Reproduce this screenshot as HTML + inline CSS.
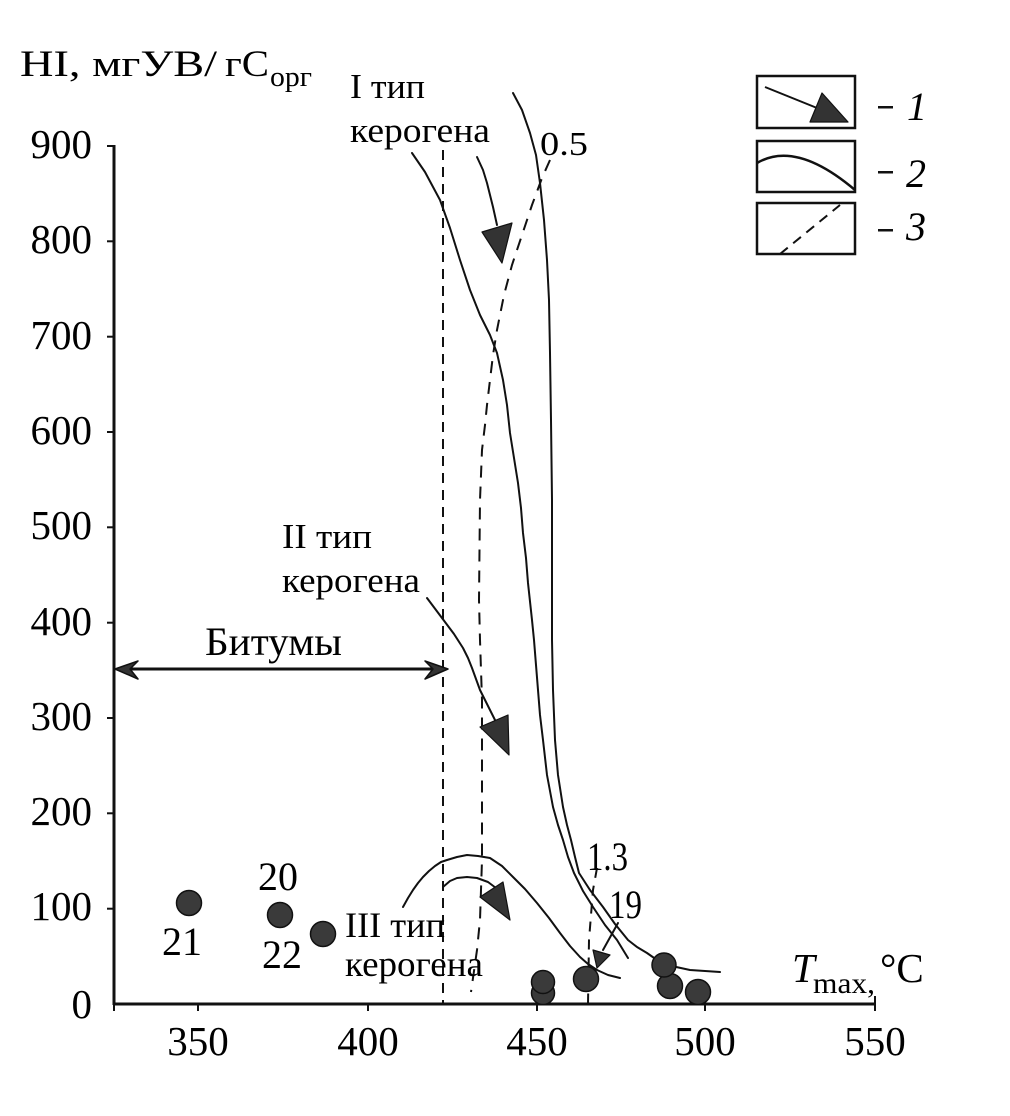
<!DOCTYPE html>
<html><head><meta charset="utf-8"><style>
html,body{margin:0;padding:0;background:#fff;}
svg{display:block;}
text{font-family:"Liberation Serif","Noto Serif CJK SC",serif;fill:#000;}
</style></head><body>
<svg width="1010" height="1116" viewBox="0 0 1010 1116" xmlns="http://www.w3.org/2000/svg">
<rect width="1010" height="1116" fill="#fff"/>

<!-- Title -->
<text x="20" y="76" font-size="37" textLength="197" lengthAdjust="spacingAndGlyphs">HI, мгУВ/</text>
<text x="225" y="76" font-size="37" textLength="44" lengthAdjust="spacingAndGlyphs">гС</text>
<text x="270" y="86" font-size="28" textLength="42" lengthAdjust="spacingAndGlyphs">орг</text>

<!-- Axes -->
<g stroke="#111" stroke-width="3" fill="none">
<line x1="114" y1="145" x2="114" y2="1005"/>
<line x1="113" y1="1004" x2="876" y2="1004"/>
</g>
<g stroke="#111" stroke-width="2">
<line x1="107" y1="146" x2="114" y2="146"/>
<line x1="107" y1="241.3" x2="114" y2="241.3"/>
<line x1="107" y1="336.7" x2="114" y2="336.7"/>
<line x1="107" y1="432" x2="114" y2="432"/>
<line x1="107" y1="527.3" x2="114" y2="527.3"/>
<line x1="107" y1="622.7" x2="114" y2="622.7"/>
<line x1="107" y1="718" x2="114" y2="718"/>
<line x1="107" y1="813.3" x2="114" y2="813.3"/>
<line x1="107" y1="908.7" x2="114" y2="908.7"/>
<line x1="114" y1="1004" x2="114" y2="1011"/>
<line x1="198" y1="1004" x2="198" y2="1011"/>
<line x1="368" y1="1004" x2="368" y2="1011"/>
<line x1="537" y1="995" x2="537" y2="1011"/>
<line x1="705" y1="998" x2="705" y2="1011"/>
<line x1="875" y1="996" x2="875" y2="1011"/>
</g>

<!-- Y tick labels -->
<g font-size="41" text-anchor="end">
<text x="92" y="158">900</text>
<text x="92" y="253">800</text>
<text x="92" y="349">700</text>
<text x="92" y="444">600</text>
<text x="92" y="539">500</text>
<text x="92" y="635">400</text>
<text x="92" y="730">300</text>
<text x="92" y="825">200</text>
<text x="92" y="920">100</text>
<text x="92" y="1018">0</text>
</g>
<!-- X tick labels -->
<g font-size="41" text-anchor="middle">
<text x="198" y="1055">350</text>
<text x="368" y="1055">400</text>
<text x="537" y="1055">450</text>
<text x="705" y="1055">500</text>
<text x="875" y="1055">550</text>
</g>

<!-- Tmax label -->
<text x="792" y="982" font-size="41" font-style="italic">T</text>
<text x="813" y="993" font-size="30" textLength="62" lengthAdjust="spacingAndGlyphs">max,</text>
<text x="880" y="982" font-size="41">°C</text>

<!-- Dashed lines -->
<g stroke="#111" stroke-width="2" fill="none">
<line x1="443" y1="150" x2="443" y2="1004" stroke-dasharray="10 7"/>
<polyline stroke-dasharray="12 9" points="550,160 542,178 532,205 522,235 512,265 504,295 497,330 493,355 490,380 487,405 485,425 482,450 480,500 479,600 480,640 482,700 482,860 480,920 477,950 471,992"/>
<polyline stroke-dasharray="10 8" points="597,868 593,890 589,940 588,1004"/>
</g>

<!-- Solid curves -->
<g stroke="#111" stroke-width="2" fill="none" stroke-linejoin="round" stroke-linecap="round">
<!-- curve A -->
<polyline points="412,153 425,172 440,200 450,228 460,260 470,290 480,315 490,335 497,353 503,380 507,405 510,433 514,458 518,483 521,508 523,533 526,558 528,583 532,620 534,640 536,665 538,690 540,715 543,740 547,775 553,807 558,825 563,840 568,857 574,873 583,891 593,907 605,925 617,940 628,958"/>
<!-- curve B -->
<polyline points="513,93 522,110 530,133 536,155 540,183 544,220 547,260 549,300 550,353 551,420 552,500 552,580 552,640 553,690 555,740 558,775 563,807 567,825 571,840 575,857 579,873 590,890 603,907 615,924 628,940 637,947 647,953 657,960 667,965 690,970 720,972"/>
<!-- III outer arc -->
<polyline points="403,907 408,898 413,890 418,883 423,877 429,871 435,866 441,862 447,860 457,857 467,855 478,856 490,858 502,866 513,877 525,889 537,903 549,918 560,933 570,946 580,957 588,964 597,970 608,975 620,978"/>
<!-- III inner arc -->
<polyline points="443,887 450,881 457,878 467,877 477,878 488,882 496,888"/>
<!-- I arrow line -->
<polyline points="477,157 483,170 487,183 490,195 493,207 497,225"/>
<!-- II arrow line -->
<polyline points="427,598 436,610 445,622 454,634 463,648 468,658 472,668 476,679 480,690 485,700 490,710 496,722"/>
<!-- 19 arrow line -->
<line x1="618" y1="923" x2="603" y2="950"/>
</g>

<!-- Arrowheads -->
<g fill="#333" stroke="#111" stroke-width="1.2" stroke-linejoin="round">
<polygon points="482,232 512,223 502,263"/>
<polygon points="480,727 508,715 509,755"/>
<polygon points="480,897 503,882 510,920"/>
<polygon points="593,950 610,955 597,968"/>
</g>

<!-- Bitumen double arrow -->
<line x1="118" y1="669" x2="444" y2="669" stroke="#111" stroke-width="3"/>
<polygon points="115,669 138,661 130,669 138,679" fill="#333" stroke="#111" stroke-width="1.5" stroke-linejoin="round"/>
<polygon points="448,669 425,661 433,669 425,679" fill="#333" stroke="#111" stroke-width="1.5" stroke-linejoin="round"/>
<text x="205" y="655" font-size="40" textLength="137" lengthAdjust="spacingAndGlyphs">Битумы</text>

<!-- Labels -->
<text x="350" y="98" font-size="35" textLength="75" lengthAdjust="spacingAndGlyphs">I тип</text>
<text x="350" y="142" font-size="35" textLength="140" lengthAdjust="spacingAndGlyphs">керогена</text>
<text x="540" y="155" font-size="34" textLength="48" lengthAdjust="spacingAndGlyphs">0.5</text>
<text x="282" y="548" font-size="35" textLength="90" lengthAdjust="spacingAndGlyphs">II тип</text>
<text x="282" y="592" font-size="35" textLength="138" lengthAdjust="spacingAndGlyphs">керогена</text>
<text x="345" y="937" font-size="36" textLength="100" lengthAdjust="spacingAndGlyphs">III тип</text>
<text x="345" y="976" font-size="36" textLength="138" lengthAdjust="spacingAndGlyphs">керогена</text>
<text x="587" y="870" font-size="40" textLength="41" lengthAdjust="spacingAndGlyphs">1.3</text>
<text x="609" y="918" font-size="40" textLength="33" lengthAdjust="spacingAndGlyphs">19</text>
<g font-size="40" text-anchor="middle">
<text x="182" y="955">21</text>
<text x="278" y="890">20</text>
<text x="282" y="968">22</text>
</g>

<!-- Data points -->
<g fill="#3a3a3a" stroke="#111" stroke-width="1.5">
<circle cx="189" cy="903" r="12.5"/>
<circle cx="280" cy="915" r="12.5"/>
<circle cx="323" cy="934" r="12.5"/>
<circle cx="543" cy="993" r="11.5"/>
<circle cx="543" cy="982" r="11.5"/>
<circle cx="586" cy="979" r="12.5"/>
<circle cx="670" cy="986" r="12.5"/>
<circle cx="664" cy="965" r="12"/>
<circle cx="698" cy="992" r="12.5"/>
</g>

<!-- Legend -->
<g stroke="#111" stroke-width="2.5" fill="#fff">
<rect x="757" y="76" width="98" height="52"/>
<rect x="757" y="141" width="98" height="51"/>
<rect x="757" y="203" width="98" height="51"/>
</g>
<line x1="765" y1="87" x2="822" y2="110" stroke="#111" stroke-width="2"/>
<polygon points="810,122 822,93 848,122" fill="#333" stroke="#111" stroke-width="1.2" stroke-linejoin="round"/>
<path d="M757,163 Q796,140 855,190" stroke="#111" stroke-width="2.5" fill="none"/>
<line x1="780" y1="254" x2="840" y2="205" stroke="#111" stroke-width="2" stroke-dasharray="10 7"/>
<g fill="#111">
<rect x="878" y="106" width="15" height="2.5"/>
<rect x="878" y="171" width="15" height="2.5"/>
<rect x="878" y="229" width="15" height="2.5"/>
</g>
<g font-size="40" font-style="italic">
<text x="907" y="120">1</text>
<text x="906" y="187">2</text>
<text x="906" y="240">3</text>
</g>
</svg>
</body></html>
